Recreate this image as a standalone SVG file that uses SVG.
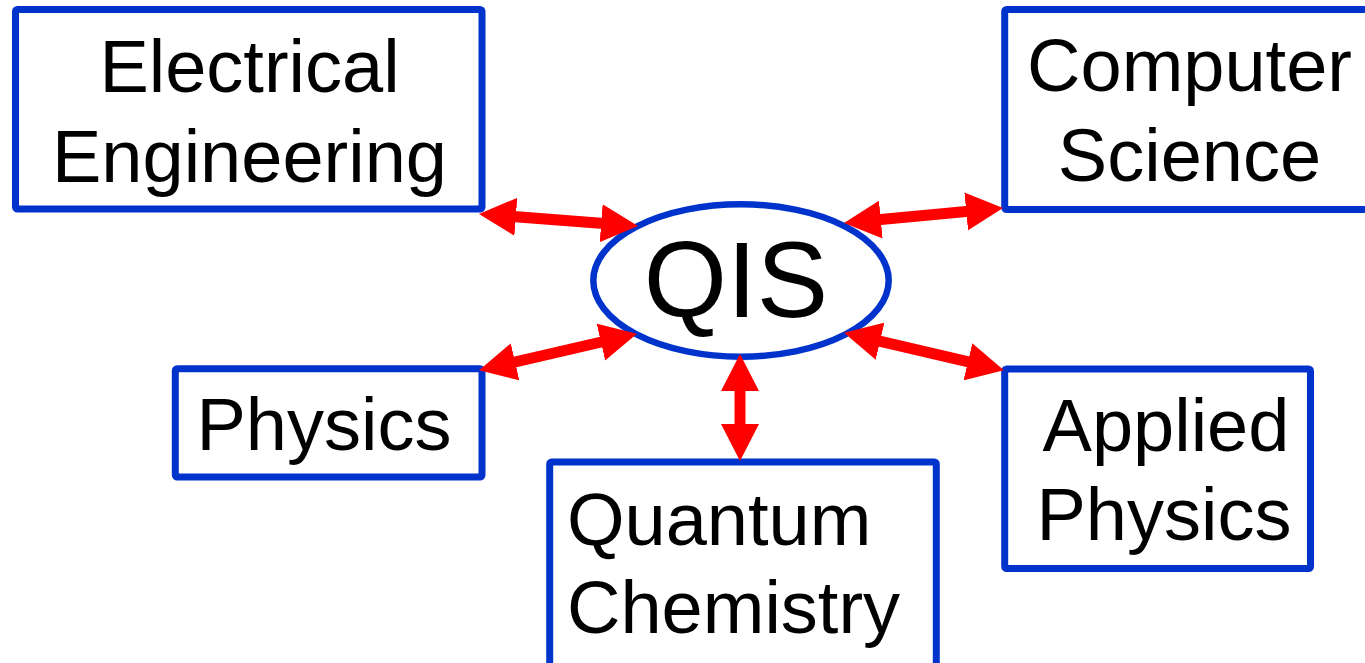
<svg xmlns="http://www.w3.org/2000/svg" width="1365" height="663" viewBox="0 0 1365 663">
<style>
.box{fill:#fff;stroke:#0033CC;stroke-width:7;}
.lbl{font-family:"Liberation Sans",Arial,sans-serif;font-size:74px;fill:#000;}
.conn{stroke:#FF0000;stroke-width:11;fill:none;marker-start:url(#ah);marker-end:url(#ah);}
</style>
<defs>
<marker id="ah" markerUnits="userSpaceOnUse" markerWidth="38" markerHeight="38" refX="16" refY="19" orient="auto-start-reverse" viewBox="0 0 38 38">
<path d="M0,0 L37,19 L0,38 z" fill="#FF0000"/>
</marker>
</defs>
<rect width="1365" height="663" fill="#fff"/>
<g id="ee">
<rect class="box" x="15.5" y="9.5" width="466.5" height="199.5" rx="2"/>
<text class="lbl" x="249.5" y="92" text-anchor="middle">Electrical</text>
<text class="lbl" x="249.5" y="182" text-anchor="middle">Engineering</text>
</g>
<g id="cs">
<rect class="box" x="1004.7" y="9.5" width="380" height="200" rx="2"/>
<text class="lbl" x="1189.5" y="91" text-anchor="middle">Computer</text>
<text class="lbl" x="1189.5" y="181" text-anchor="middle">Science</text>
</g>
<g id="ph">
<rect class="box" x="175.3" y="368.7" width="306.7" height="108.3" rx="2"/>
<text class="lbl" x="324" y="450" text-anchor="middle">Physics</text>
</g>
<g id="qc">
<rect class="box" x="549.7" y="462" width="386.6" height="230" rx="2"/>
<text class="lbl" x="567" y="545">Quantum</text>
<text class="lbl" x="567" y="633">Chemistry</text>
</g>
<g id="ap">
<rect class="box" x="1004.7" y="369" width="305.8" height="199.5" rx="2"/>
<text class="lbl" x="1166" y="451" text-anchor="middle">Applied</text>
<text class="lbl" x="1164" y="540" text-anchor="middle">Physics</text>
</g>
<g id="qis">
<ellipse cx="741" cy="280.5" rx="147.7" ry="76.2" fill="#fff" stroke="#0033CC" stroke-width="6.5"/>
<text x="736" y="317" text-anchor="middle" font-family="Liberation Sans, Arial, sans-serif" font-size="107">QIS</text>
</g>
<g id="connectors">
<line class="conn" x1="499.9" y1="215.5" x2="617.1" y2="224.5"/>
<line class="conn" x1="864.9" y1="221.1" x2="982.1" y2="209.9"/>
<line class="conn" x1="499.5" y1="365.5" x2="616.5" y2="338.5"/>
<line class="conn" x1="864.5" y1="337.6" x2="983.5" y2="365.4"/>
<line class="conn" x1="740" y1="375" x2="740" y2="440"/>
</g>
</svg>
